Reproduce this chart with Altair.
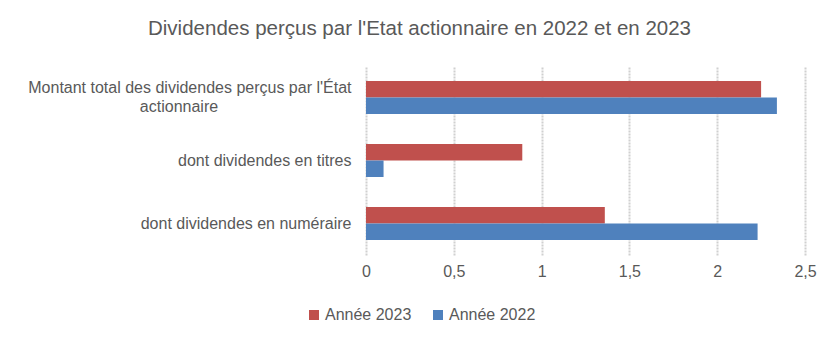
import altair as alt
import pandas as pd

categories = [
    "Montant total des dividendes perçus par l'État actionnaire",
    "dont dividendes en titres",
    "dont dividendes en numéraire",
]
series = ["Année 2023", "Année 2022"]
values_2023 = [2.25, 0.89, 1.36]
values_2022 = [2.34, 0.10, 2.23]
x_ticks = [0, 0.5, 1, 1.5, 2, 2.5]
colors = ["#C0504D", "#4F81BD"]

rows = []
for c, v in zip(categories, values_2023):
    rows.append({"cat": c, "serie": series[0], "val": v})
for c, v in zip(categories, values_2022):
    rows.append({"cat": c, "serie": series[1], "val": v})
df = pd.DataFrame(rows)

nb = "\u00a0" * 30 + "\u200b"
first_test = "datum.value == \"" + categories[0].replace("'", "\\'") + "\""
label_expr = (
    first_test + " ? "
    "['Montant total des dividendes perçus par l\\'État', 'actionnaire" + nb + "'] : datum.label"
)

text_color = "#595959"
font = "Liberation Sans"
fs = 16

chart = alt.Chart(df).mark_bar().encode(
    y=alt.Y(
        "cat:N",
        sort=categories,
        scale=alt.Scale(paddingInner=0.476, paddingOuter=0.238),
        axis=alt.Axis(
            title=None,
            labelExpr=label_expr,
            labelFontSize=fs,
            labelColor=text_color,
            labelFont=font,
            labelPadding=15,
            labelLimit=400,
            ticks=False,
            domain=False,
            labelLineHeight=19,
            labelOffset={"condition": {"test": first_test, "value": -10}, "value": 0},
        ),
    ),
    yOffset=alt.YOffset("serie:N", sort=series, scale=alt.Scale(paddingInner=0, paddingOuter=0)),
    x=alt.X(
        "val:Q",
        scale=alt.Scale(domain=[0, 2.5], nice=False),
        axis=alt.Axis(
            title=None,
            values=x_ticks,
            labelExpr="replace(format(datum.value, '~g'), '.', ',')",
            labelFontSize=fs,
            labelColor=text_color,
            labelFont=font,
            labelPadding=8,
            labelFlush=False,
            ticks=False,
            domain=False,
            grid=True,
            gridColor="#D0D0D0",
            gridWidth=2,
            gridDash=[2, 1],
        ),
    ),
    color=alt.Color(
        "serie:N",
        sort=series,
        scale=alt.Scale(domain=series, range=colors),
        legend=alt.Legend(
            title=None,
            orient="none",
            direction="horizontal",
            legendX=-60,
            legendY=241,
            symbolType="square",
            symbolSize=100,
            symbolStrokeWidth=0,
            labelFontSize=fs,
            labelColor=text_color,
            labelFont=font,
            columnPadding=18,
            labelOffset=3,
        ),
    ),
).properties(
    width=439,
    height=189,
    title=alt.TitleParams(
        "Dividendes perçus par l'Etat actionnaire en 2022 et en 2023",
        fontSize=20.5,
        font=font,
        fontWeight="normal",
        color=text_color,
        anchor="middle",
        frame="group",
        dx=-166,
        offset=27,
    ),
    autosize=alt.AutoSizeParams(type="none"),
    padding={"left": 366, "top": 66, "right": 34, "bottom": 89},
).configure_view(stroke=None)

chart.save("out.html", embed_options={"renderer": "svg", "actions": False})
